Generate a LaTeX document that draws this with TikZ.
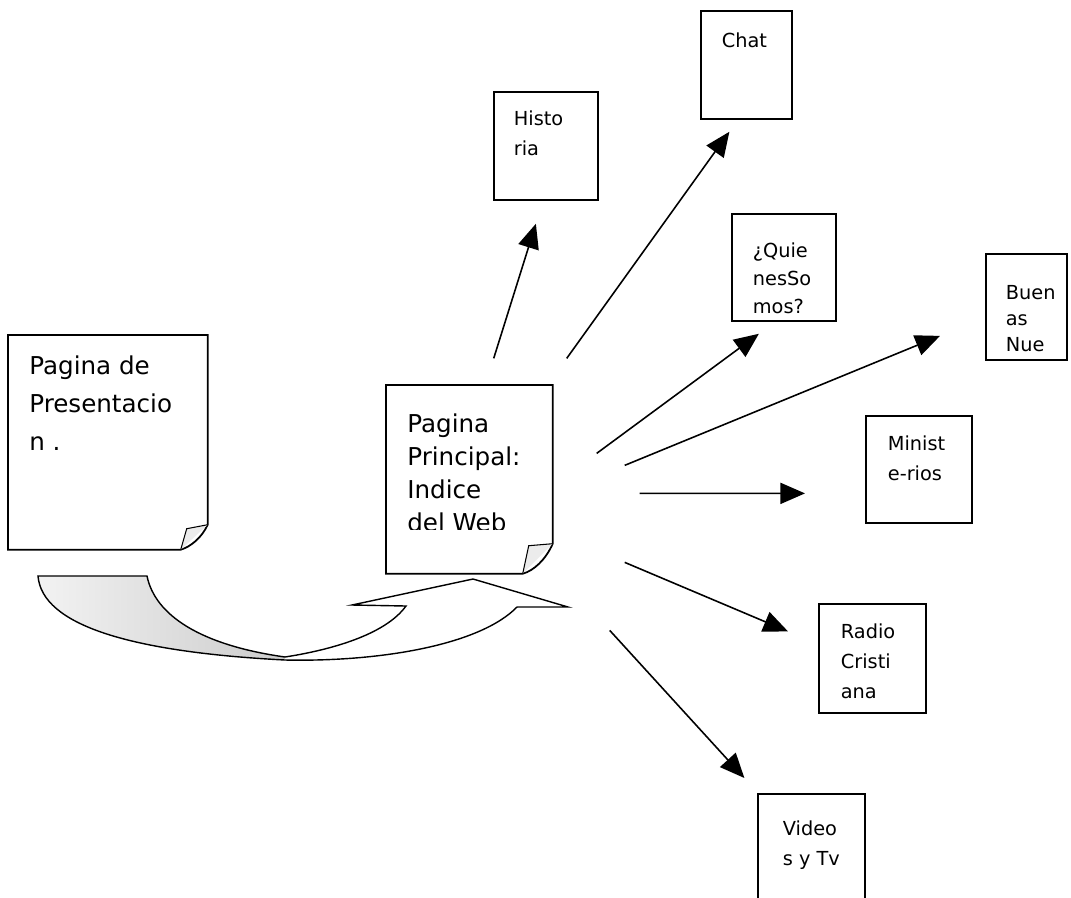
\documentclass[tikz,border=0pt]{standalone}
\usepackage{fontspec}
\setmainfont{DejaVu Sans}
\usetikzlibrary{arrows.meta, calc}

\newlength{\px}
\setlength{\px}{0.02cm}
% caja de texto: ancho, alto, margen arriba, margen izquierdo, lineas
\newcommand{\pagetxt}[5]{\parbox[c][#2\px][t]{#1\px}{\vspace*{#3\px}\raggedright\leftskip=#4\px\strut #5}}

\begin{document}
\begin{tikzpicture}[x=0.02cm, y=0.02cm,
    box/.style={draw, line width=1pt, anchor=north west, inner sep=0pt, font=\fontsize{11}{17}\selectfont},
    hoja/.style={anchor=north west, inner sep=0pt},
    borde/.style={line width=1pt},
    doblez/.style={fill=gray!15, line width=0.6pt},
    link/.style={line width=0.9pt, -{Triangle[length=14pt, width=12pt]}}]
  \useasboundingbox (0,0) rectangle (1071,-897);

  % paginas con la esquina doblada
  \node[hoja, font=\fontsize{14}{21.6}\selectfont] (pres) at (8,-335)
    {\pagetxt{199}{214}{13}{21}{Pagina de\\Presentacio\\n .}};
  \begin{scope}
    \clip (386,-385) rectangle (552,-529);
    \node[hoja, font=\fontsize{14}{18.8}\selectfont] (ppal) at (386,-385)
      {\pagetxt{166}{188}{24}{21}{Pagina\\Principal:\\Indice\\del Web}};
  \end{scope}

  \draw[borde] (pres.north west) -- (pres.north east) -- ($(pres.south east)+(0,25)$)
    .. controls ($(pres.south east)+(-6,12)$) and ($(pres.south east)+(-17,3)$) .. ($(pres.south east)+(-27,0)$)
    -- (pres.south west) -- cycle;
  \filldraw[doblez] ($(pres.south east)+(-27,0)$) -- ($(pres.south east)+(-21,21)$) -- ($(pres.south east)+(0,25)$);
  \draw[borde] (ppal.north west) -- (ppal.north east) -- ($(ppal.south east)+(0,30)$)
    .. controls ($(ppal.south east)+(-7,14)$) and ($(ppal.south east)+(-19,3)$) .. ($(ppal.south east)+(-30,0)$)
    -- (ppal.south west) -- cycle;
  \filldraw[doblez] ($(ppal.south east)+(-30,0)$) -- ($(ppal.south east)+(-24,28)$) -- ($(ppal.south east)+(0,30)$);

  % flecha curva
  \shade[left color=gray!10, right color=gray!40] (38,-576) -- (147,-576)
    .. controls (155,-615) and (200,-645) .. (285,-657) -- (285,-660)
    .. controls (130,-652) and (42,-625) .. (38,-576) -- cycle;
  \draw[line width=0.8pt, line join=miter] (38,-576) -- (147,-576)
    .. controls (155,-615) and (200,-645) .. (285,-657)
    .. controls (330,-650) and (385,-635) .. (406,-606)
    -- (352,-605) -- (473,-579) -- (568,-607) -- (517,-607)
    .. controls (480,-645) and (380,-662) .. (285,-660)
    .. controls (130,-652) and (42,-625) .. (38,-576) -- cycle;

  % secciones
  \node[box] (hist) at (493,-91) {\pagetxt{104}{108}{13}{20}{Histo\\ria}};
  \node[box] (chat) at (700,-10) {\pagetxt{91}{108}{16}{21}{Chat}};
  \node[box, font=\fontsize{11}{15.9}\selectfont] (quien) at (731,-213)
    {\pagetxt{104}{107}{24}{21}{¿Quie\\nesSo\\mos?}};
  \node[box, font=\fontsize{11}{14.8}\selectfont] (buen) at (985,-253)
    {\pagetxt{81}{106}{27}{20}{Buen\\as\\Nue}};
  \node[box] (minis) at (865,-415) {\pagetxt{106}{107}{14}{22}{Minist\\e-rios}};
  \node[box] (radio) at (818,-603) {\pagetxt{107}{109}{14}{22}{Radio\\Cristi\\ana}};
  \node[box] (video) at (757,-793) {\pagetxt{107}{130}{21}{25}{Video\\s y Tv}};

  % flechas
  \coordinate (hist-a) at ($(ppal.east)+(-59,121)$);
  \coordinate (hist-b) at ($(hist.south)+(-10,-23)$);
  \coordinate (chat-a) at ($(ppal.east)+(14,121)$);
  \coordinate (chat-b) at ($(chat.south)+(-17,-12)$);
  \coordinate (quien-a) at ($(ppal.east)+(44,26)$);
  \coordinate (quien-b) at ($(quien.south)+(-25,-12)$);
  \coordinate (buen-a) at ($(ppal.east)+(72,14)$);
  \coordinate (buen-b) at ($(buen.west)+(-45,-29)$);
  \coordinate (minis-a) at ($(ppal.east)+(87,-14)$);
  \coordinate (minis-b) at ($(minis.west)+(-60,-24)$);
  \coordinate (radio-a) at ($(ppal.east)+(72,-83)$);
  \coordinate (radio-b) at ($(radio.west)+(-30,27)$);
  \coordinate (video-a) at ($(ppal.east)+(57,-151)$);
  \coordinate (video-b) at ($(video.north)+(-67,15)$);
  \foreach \n in {hist, chat, quien, buen, minis, radio, video}
    \draw[link] (\n-a) -- (\n-b);
\end{tikzpicture}
\end{document}
